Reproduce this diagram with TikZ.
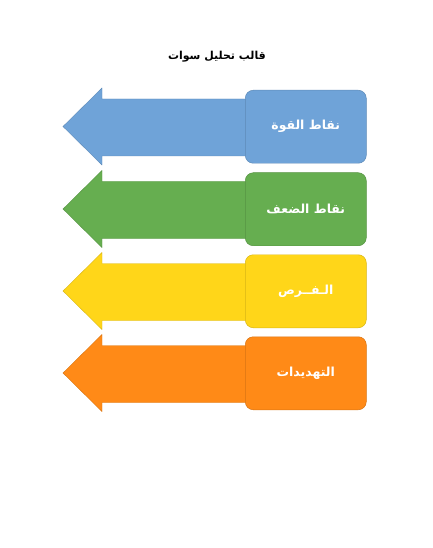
\documentclass[tikz,border=0pt]{standalone}
\usepackage{fontspec}
\newfontfamily\arabicfont[Script=Arabic]{DejaVu Sans}
\newfontfamily\arabicbold[Script=Arabic]{DejaVu Sans Bold}
\TeXXeTstate=1
\definecolor{cblue}{HTML}{6FA3D8}
\definecolor{cgreen}{HTML}{66AE50}
\definecolor{cyellow}{HTML}{FFD619}
\definecolor{corange}{HTML}{FF8A17}
\tikzset{
  boxlabel/.style={draw=#1!85!black, fill=#1, line width=0.5pt, rounded corners=8bp,
    minimum width=121bp, minimum height=73bp, inner sep=0pt, anchor=north west,
    text=white, font=\arabicbold\fontsize{12.5}{14}\selectfont},
  arrowshape/.style={draw=#1!85!black, fill=#1, line width=0.4pt, line join=miter},
}
\newcommand{\swotrow}[4]{%
  % #1 name, #2 top y, #3 colour, #4 text
  \path[arrowshape=#3] (246,#2+9) -- (102,#2+9) -- (102,#2-2) -- (63,#2+36.5)
     -- (102,#2+75) -- (102,#2+66) -- (246,#2+66) -- cycle;
  \node[boxlabel=#3] (#1) at (245,#2) {#4};
}
\begin{document}
\begin{tikzpicture}[x=1bp,y=-1bp]
\useasboundingbox (0,0) rectangle (433,548);
\node[font=\arabicbold\fontsize{11}{13}\selectfont] (title) at (217,57) {\beginR قالب تحليل سوات\endR};
\swotrow{s}{90}{cblue}{\beginR نقاط القوة\endR}
\swotrow{w}{172.5}{cgreen}{\beginR نقاط الضعف\endR}
\swotrow{o}{254.5}{cyellow}{\beginR الـفــرص\endR}
\swotrow{t}{336.5}{corange}{\beginR التهديدات\endR}
\end{tikzpicture}
\end{document}
